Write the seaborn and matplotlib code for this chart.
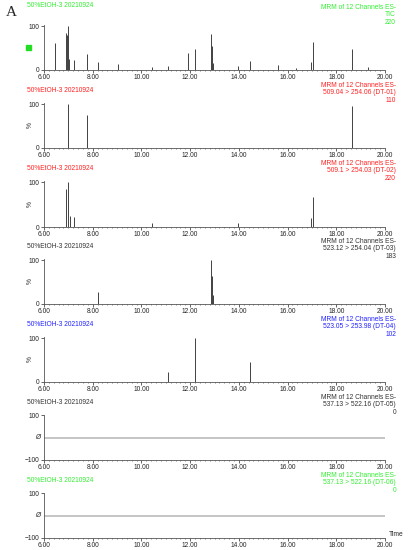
import matplotlib
matplotlib.use("Agg")
import matplotlib.pyplot as plt
import seaborn as sns
import numpy as np
import pandas as pd

sns.set_theme(style="ticks")
plt.rcParams['font.family'] = ['Liberation Sans', 'DejaVu Sans']

sample = "50%EtOH-3 20210924"
titles = ["TIC", "509.04 > 254.06 (DT-01)", "509.1 > 254.03 (DT-02)",
          "523.12 > 254.04 (DT-03)", "523.05 > 253.98 (DT-04)",
          "537.13 > 522.16 (DT-05)", "537.13 > 522.16 (DT-06)"]
intens = ["220", "110", "220", "183", "102", "0", "0"]
colors = ["#33ee33", "#ff2222", "#ff2222", "#333333", "#2222ff", "#333333", "#33ee33"]

tic_t = [6.45, 6.9, 6.95, 7.0, 7.03, 7.25, 7.75, 8.2, 9.05, 10.45, 11.1, 11.9, 12.2, 12.85, 12.9, 12.95, 13.95, 14.45, 15.6, 16.35, 16.95, 17.05, 18.65, 19.3]
tic_h = [62, 85, 80, 100, 25, 22, 37, 18, 13, 8, 10, 40, 48, 83, 55, 15, 10, 20, 11, 5, 18, 65, 48, 7]
dt1_t = [7.0, 7.75, 18.65]
dt1_h = [100, 75, 95]
dt2_t = [6.9, 7.0, 7.05, 7.25, 10.45, 13.95, 16.95, 17.05]
dt2_h = [85, 100, 25, 22, 10, 10, 20, 67]
dt3_t = [8.2, 12.85, 12.9, 12.95]
dt3_h = [28, 100, 65, 20]
dt4_t = [11.1, 12.2, 14.45]
dt4_h = [22, 100, 45]
peaks = [(tic_t, tic_h), (dt1_t, dt1_h), (dt2_t, dt2_h), (dt3_t, dt3_h), (dt4_t, dt4_h), ([], []), ([], [])]
xticks = [6, 8, 10, 12, 14, 16, 18, 20]

fig = plt.figure(figsize=(4.08, 5.5), dpi=100)
W, H = 408, 550
tops = [25, 103, 181, 259, 337, 415, 493]
hts = [45, 45, 46, 45, 45, 45, 45]
L, R = 44, 385
fs = 4.8
for i in range(7):
    ax = fig.add_axes([L / W, 1 - (tops[i] + hts[i]) / H, (R - L) / W, hts[i] / H])
    t, h = peaks[i]
    if i < 5:
        ax.vlines(t, 0, h, color="#222222", lw=0.6)
        ax.set_ylim(0, 103)
        ax.set_yticks([0, 100])
        ax.text(-0.05, 0.5, "%", transform=ax.transAxes, fontsize=fs, rotation=90, va="center")
    else:
        ax.axhline(0, color="#bbbbbb", lw=1.2)
        ax.set_ylim(-100, 100)
        ax.set_yticks([-100, 100])
        ax.text(-0.01, 0.5, "Ø", transform=ax.transAxes, fontsize=fs, ha="right", va="center", fontstyle="italic")
    ax.set_xlim(6, 20)
    ax.set_xticks(xticks)
    ax.set_xticklabels(["%.2f" % x for x in xticks])
    ax.set_xticks(np.arange(6, 20.01, 0.2), minor=True)
    ax.tick_params(labelsize=fs, length=2, width=0.5, pad=1)
    ax.tick_params(which="minor", length=1, width=0.4)
    for s in ["top", "right"]:
        ax.spines[s].set_visible(False)
    for s in ["left", "bottom"]:
        ax.spines[s].set_linewidth(0.6)
        ax.spines[s].set_color("#555555")
    c = colors[i]
    ax.text(-0.05, 1.2 if i else 1.35, sample, transform=ax.transAxes, fontsize=fs, color=c, va="bottom")
    fig.text(396 / W, 1 - (tops[i] - 21) / H, "MRM of 12 Channels ES-\n" + titles[i] + "\n" + intens[i],
             fontsize=fs, color=c, ha="right", va="top", linespacing=1.05, multialignment="right")
    if i == 6:
        ax.text(1.01, 0.0, "Time", transform=ax.transAxes, fontsize=fs, va="bottom")
fig.text(6 / W, 1 - 12 / H, "A", fontsize=11, family="Liberation Serif", va="center")
fig.patches.append(plt.Rectangle((26 / W, 1 - 50 / H), 5 / W, 5 / H, transform=fig.transFigure, color="#22dd22"))
fig.savefig("out.png", dpi=100)
